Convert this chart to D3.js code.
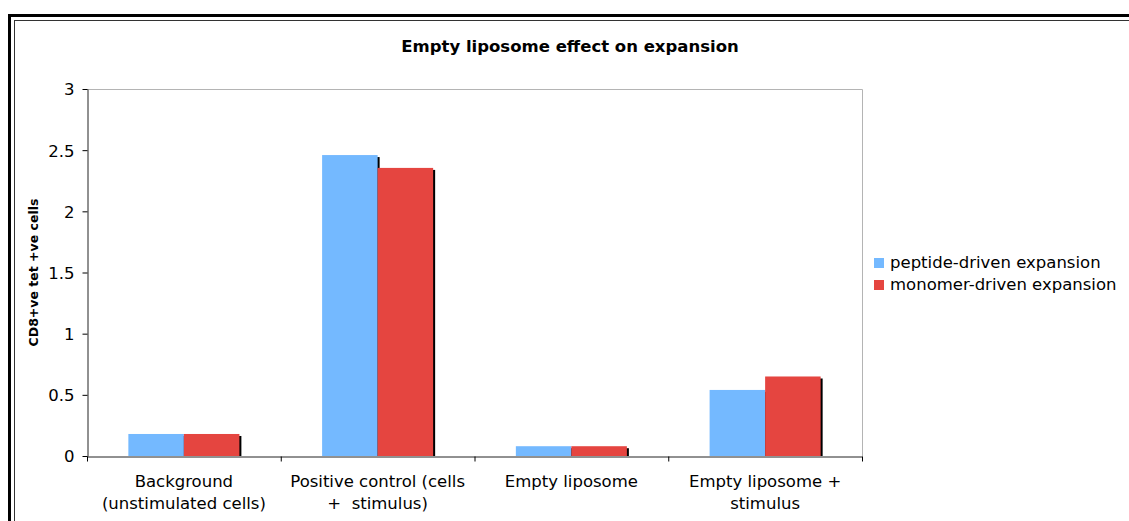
<!DOCTYPE html>
<meta charset="utf-8">
<head>
    <script src="https://d3js.org/d3.v7.min.js"></script>
    <style>
        body { margin: 0; background: #fff; }
        text { font-family: "DejaVu Sans", Verdana, sans-serif; fill: #000; }
    </style>
</head>
<body>
<div id="chart"></div>
<script>

    // values
    const categories = ["Background", "Positive control", "Empty liposome", "Empty liposome + stimulus"]
    const categoryLines = [
        ["Background", "(unstimulated cells)"],
        ["Positive control (cells", "+  stimulus)"],
        ["Empty liposome"],
        ["Empty liposome +", "stimulus"]
    ]
    const seriesNames = ["peptide-driven expansion", "monomer-driven expansion"]
    const seriesColors = ["#74b9ff", "#e54540"]
    const peptide = [0.18, 2.46, 0.08, 0.54]
    const monomer = [0.18, 2.355, 0.08, 0.65]
    const yTicks = [0, 0.5, 1, 1.5, 2, 2.5, 3]

    const svg = d3.select("#chart").append("svg")
        .attr("width", 1129)
        .attr("height", 521)

    // chart frame (thick outer + thin inner), runs off right and bottom edge
    svg.append("rect")
        .attr("x", 9.5).attr("y", 15.5)
        .attr("width", 1200).attr("height", 600)
        .attr("fill", "none").attr("stroke", "#000").attr("stroke-width", 3)
    svg.append("rect")
        .attr("x", 14.5).attr("y", 20.5)
        .attr("width", 1200).attr("height", 600)
        .attr("fill", "none").attr("stroke", "#333").attr("stroke-width", 1)

    const plotLeft = 87, plotRight = 862, plotTop = 89, plotBottom = 456

    const y = d3.scaleLinear().domain([0, 3]).range([plotBottom, plotTop])
    const x0 = d3.scaleBand().domain(categories).range([plotLeft, plotRight])
    const x1 = d3.scaleBand().domain(seriesNames).range([0, x0.bandwidth()])
        .paddingInner(0).paddingOuter(0.745)
    const xEdge = d3.scaleLinear().domain([0, categories.length]).range([plotLeft, plotRight])

    // plot area border (grey top/right)
    svg.append("path")
        .attr("d", `M${plotLeft},${plotTop + 0.5}H${plotRight + 0.5}V${plotBottom}`)
        .attr("fill", "none").attr("stroke", "#b4b4b4").attr("stroke-width", 1)

    // bars with small black shadow
    const rows = categories.map((c, i) => ({cat: c, vals: [peptide[i], monomer[i]]}))
    rows.forEach(r => {
        r.vals.forEach((v, j) => {
            const bx = x0(r.cat) + x1(seriesNames[j])
            const w = x1.bandwidth()
            svg.append("rect")
                .attr("x", bx + 2).attr("y", y(v) + 2)
                .attr("width", w).attr("height", Math.max(0, plotBottom - y(v) - 2))
                .attr("fill", "#000")
            svg.append("rect")
                .attr("x", bx).attr("y", y(v))
                .attr("width", w).attr("height", plotBottom - y(v))
                .attr("fill", seriesColors[j])
        })
    })

    const leftAxis = d3.axisLeft(y).tickValues(yTicks).tickSize(5).tickSizeOuter(0).tickPadding(8)
        .tickFormat(d => String(d))
    const gy = svg.append("g")
        .attr("transform", `translate(${plotLeft + 0.5},0)`)
        .call(leftAxis)
    gy.selectAll("text").style("font-size", "16.5px").attr("dy", "0.36em")

    const bottomAxis = d3.axisBottom(xEdge).tickValues(d3.range(categories.length + 1))
        .tickSize(5).tickSizeOuter(0).tickFormat("")
    svg.append("g")
        .attr("transform", `translate(0,${plotBottom + 0.5})`)
        .call(bottomAxis)
    svg.selectAll(".domain").attr("stroke", "#222")

    // category labels (wrapped like the original)
    categoryLines.forEach((lines, i) => {
        const cx = x0(categories[i]) + x0.bandwidth() / 2
        const t = svg.append("text")
            .attr("x", cx)
            .attr("y", 487)
            .attr("text-anchor", "middle")
            .style("font-size", "16.5px")
            .style("white-space", "pre")
        lines.forEach((l, k) => {
            t.append("tspan")
                .attr("x", cx)
                .attr("dy", k === 0 ? 0 : 22)
                .text(l)
        })
    })

    // title, centred on the whole chart area (which runs past the right edge)
    svg.append("text")
        .attr("x", 570)
        .attr("y", 52)
        .attr("text-anchor", "middle")
        .style("font-size", "16.5px")
        .style("font-weight", "bold")
        .text("Empty liposome effect on expansion")

    // y axis title
    svg.append("text")
        .attr("transform", `translate(37.5,${(plotTop + plotBottom) / 2}) rotate(-90)`)
        .attr("text-anchor", "middle")
        .style("font-size", "12.5px")
        .style("font-weight", "bold")
        .text("CD8+ve tet +ve cells")

    // legend
    const legend = svg.append("g").attr("transform", "translate(874,258)")
    seriesNames.forEach((s, j) => {
        legend.append("rect")
            .attr("x", 0).attr("y", j * 22)
            .attr("width", 10).attr("height", 10)
            .attr("fill", seriesColors[j])
        legend.append("text")
            .attr("x", 16).attr("y", j * 22 + 10)
            .style("font-size", "16.5px")
            .text(s)
    })

</script>
</body>
